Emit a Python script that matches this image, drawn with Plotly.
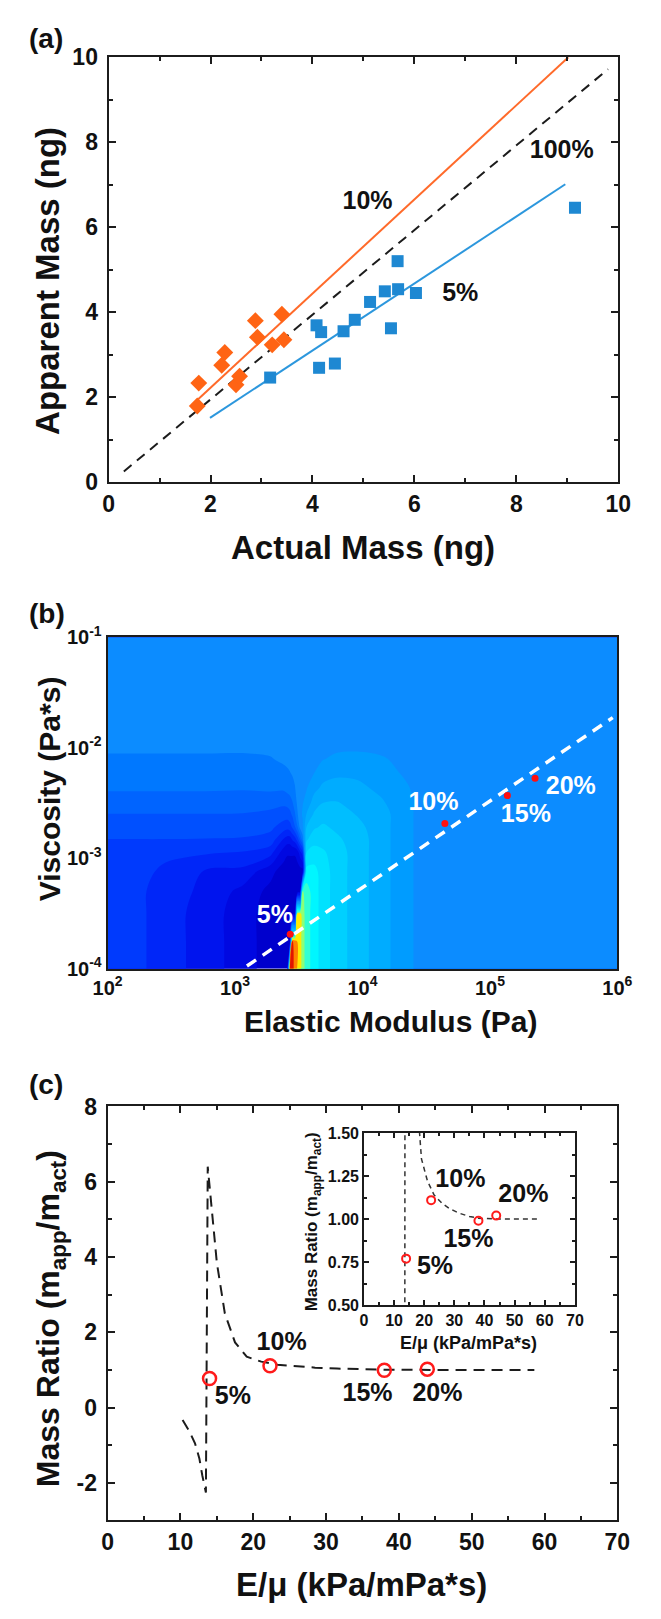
import plotly.graph_objects as go

# ---------------- panel (a) data ----------------
ORANGE_X = [1.77, 1.74, 2.22, 2.28, 2.50, 2.57, 2.88, 2.92, 3.21, 3.40, 3.44]
ORANGE_Y = [2.33, 1.79, 2.75, 3.05, 2.29, 2.49, 3.80, 3.41, 3.23, 3.95, 3.35]
BLUE_X = [3.17, 4.08, 4.17, 4.13, 4.44, 4.61, 4.83, 5.13, 5.42, 5.67, 5.68, 5.54, 6.03, 9.15]
BLUE_Y = [2.46, 3.69, 3.53, 2.69, 2.79, 3.55, 3.82, 4.24, 4.49, 5.20, 4.54, 3.62, 4.45, 6.46]
ORANGE_FIT_X = [1.72, 9.02]
ORANGE_FIT_Y = [1.91, 10.0]
BLUE_FIT_X = [1.99, 8.96]
BLUE_FIT_Y = [1.51, 7.01]
UNITY_X = [0.3, 9.8]
UNITY_Y = [0.25, 9.72]
A_LABELS = ["10%", "100%", "5%"]
A_LABEL_X = [5.08, 8.89, 6.90]
A_LABEL_Y = [6.57, 7.77, 4.41]

# ---------------- panel (b) data ----------------
LOG_E = [2.0, 2.15, 2.46, 2.77, 3.06, 3.28, 3.38, 3.41, 3.43, 3.45, 3.47, 3.49,
         3.51, 3.53, 3.56, 3.62, 3.69, 3.80, 3.96, 4.14, 4.30, 4.50, 4.75, 6.0]
LOG_ETA = [-4.0, -3.75, -3.5, -3.3, -3.12, -2.95, -2.83, -2.72, -2.6, -2.5,
           -2.36, -2.22, -2.1, -1.9, -1.5, -1.0]
Z_LEVEL = [
    [-4, -4, -5, -6, -7, -8, -8, -8, 11, 11, 10, 9.4, 9, 8, 7, 6, 5, 4, 3, 2, 1, 0, 0, 0],
    [-4, -4, -5, -6, -7, -8, -8, -8, -8, 10.6, 10, 9.4, 9, 8, 7, 6, 5, 4, 3, 2, 1, 0, 0, 0],
    [-4, -4, -5, -6, -7, -8, -8, -8, -8, -8, -8, 9, 8.8, 8, 7, 6, 5, 4, 3, 2, 1, 0, 0, 0],
    [-4, -4, -5, -5.75, -6.8, -7.8, -8, -8, -8, -8, -8, -8, -8, 7.6, 7, 6, 5, 4, 3, 2, 1, 0, 0, 0],
    [-4, -4, -4.7, -5.6, -5.8, -7.2, -8, -8, -8, -8, -8, -8, -8, -8, 5.83, 5.85, 5, 4, 3, 2, 1, 0, 0, 0],
    [-4, -4, -4.3, -4.4, -4.6, -5.2, -7, -7.4, -7.4, -7.4, -7.4, -7, -6, -5, 4.52, 4.91, 4.65, 4, 3, 2, 1, 0, 0, 0],
    [-3.52, -3.52, -3.52, -3.55, -3.6, -3.9, -5.6, -6, -6, -5.4, -5, -4, -2.6, -1.0, 3.35, 4.14, 4.125, 3.68, 3, 2, 1, 0, 0, 0],
    [-3.02, -3.02, -3.02, -3.02, -3.05, -3.3, -4, -4.2, -4, -3.4, -2.6, -1.6, -0.3, 0.3, 2.52, 3.375, 3.67, 3.3, 2.78, 2, 1, 0, 0, 0],
    [-2.52, -2.52, -2.52, -2.52, -2.55, -2.8, -3, -3, -2.8, -2.3, -1.6, -0.6, 0.2, 0.6, 1.52, 2.625, 3.06, 2.9, 2.44, 2, 1, 0, 0, 0],
    [-1.97, -1.97, -1.97, -1.97, -2.0, -2.1, -2.3, -2.2, -2.0, -1.6, -1.0, -0.3, 0.3, 0.45, 0.83, 2.0, 2.52, 2.57, 2.15, 1.667, 1, 0, 0, 0],
    [-1.36, -1.36, -1.36, -1.36, -1.4, -1.3, -1.3, -1.1, -1.0, -0.8, -0.55, 0.0, 0.25, 0.3, 0.42, 1.15, 1.72, 1.93, 1.74, 1.27, 0.775, 0, 0, 0],
    [-0.99, -0.99, -0.99, -0.99, -1.0, -0.9, -0.7, -0.6, -0.52, -0.4, -0.2, 0.1, 0.15, 0.2, 0.29, 0.457, 1.0, 1.26, 1.25, 0.91, 0.457, 0, 0, 0],
    [-0.66, -0.66, -0.66, -0.66, -0.68, -0.55, -0.35, -0.3, -0.25, -0.2, -0.1, 0.05, 0.08, 0.1, 0.18, 0.286, 0.455, 0.69, 0.75, 0.603, 0.329, 0, 0, 0],
    [0, 0, 0, 0, 0, -0.1, -0.1, -0.1, -0.1, -0.05, 0, 0, 0, 0, 0, 0, 0, 0, 0, 0, 0, 0, 0, 0],
    [0] * 24,
    [0] * 24,
]
# colour of each band, for level -8 ... 11
LEVEL_COLORS = [
    "rgb(0,0,205)", "rgb(0,8,225)", "rgb(0,20,238)", "rgb(0,38,248)",
    "rgb(0,58,253)", "rgb(0,80,255)", "rgb(0,100,255)", "rgb(0,120,255)",
    "rgb(12,140,255)", "rgb(0,156,255)", "rgb(0,172,255)", "rgb(0,190,255)",
    "rgb(0,208,255)", "rgb(0,226,255)", "rgb(0,246,255)", "rgb(50,255,210)",
    "rgb(140,255,120)", "rgb(255,235,0)", "rgb(255,130,0)", "rgb(225,20,0)",
]
B_DOT_E = [2.71e3, 4.43e4, 1.37e5, 2.26e5]
B_DOT_ETA = [2.05e-4, 2.07e-3, 3.7e-3, 5.3e-3]
B_LINE_E = [1.24e3, 9.2e5]
B_LINE_ETA = [1.06e-4, 1.88e-2]
B_LABELS = ["5%", "10%", "15%", "20%"]
B_LABEL_LOGE = [3.313, 4.557, 5.282, 5.635]
B_LABEL_LOGETA = [-3.531, -2.506, -2.610, -2.357]
B_XTICK_VALS = [1e2, 1e3, 1e4, 1e5, 1e6]
B_XTICK_TEXT = ["10<sup>2</sup>", "10<sup>3</sup>", "10<sup>4</sup>", "10<sup>5</sup>", "10<sup>6</sup>"]
B_YTICK_VALS = [1e-4, 1e-3, 1e-2, 1e-1]
B_YTICK_TEXT = ["10<sup>-4</sup>", "10<sup>-3</sup>", "10<sup>-2</sup>", "10<sup>-1</sup>"]

# ---------------- panel (c) data ----------------
C_CURVE_X = [10.3, 11.2, 12.0, 12.6, 13.0, 13.5, 13.75, 14.3, 15.0, 16.1, 17.5, 19.1,
             21.1, 23.3, 26.0, 28.5, 31.5, 35.0, 38.0, 45.0, 58.6]
C_CURVE_Y = [-0.33, -0.62, -0.95, -1.35, -1.8, -2.26, 6.4, 5.29, 3.85, 2.5, 1.73, 1.35,
             1.22, 1.14, 1.09, 1.06, 1.035, 1.015, 1.005, 1.0, 1.0]
C_PTS_X = [14.0, 22.3, 38.0, 43.9]
C_PTS_Y = [0.77, 1.11, 0.99, 1.02]
C_LABELS = ["5%", "10%", "15%", "20%"]
C_LABEL_X = [17.2, 23.9, 35.7, 45.3]
C_LABEL_Y = [0.25, 1.69, 0.34, 0.34]
INSET_LABEL_X = [23.6, 32.0, 34.7, 52.9]
INSET_LABEL_Y = [0.716, 1.22, 0.874, 1.136]
C_YTICK_VALS = [-2, 0, 2, 4, 6, 8]
C_YTICK_TEXT = ["-2", "0", "2", "4", "6", "8"]
INSET_YTICK_VALS = [0.5, 0.75, 1.0, 1.25, 1.5]
INSET_YTICK_TEXT = ["0.50", "0.75", "1.00", "1.25", "1.50"]

# ---------------- styling ----------------
W, H = 661, 1619
FONT = "Liberation Sans, Arial, sans-serif"
INK = "#1c1c1c"
ORANGE = "#ff6414"
ORANGE_LINE = "#ff6a2a"
BLUE = "#1e88d2"
BLUE_LINE = "#2c97dd"


def px_x(p):
    return p / W


def px_y(p):
    return 1 - p / H


def bold(size, color="#111"):
    return dict(family=FONT, size=size, color=color, weight="bold")


def plain(size, color="#111"):
    return dict(family=FONT, size=size, color=color)


def b(s):
    return "<b>" + s + "</b>"


def text_trace(xs, ys, labels, size, color, xa, ya):
    return go.Scatter(x=xs, y=ys, mode="text", text=[b(t) for t in labels],
                      textposition="middle center",
                      textfont=plain(size, color), cliponaxis=False, hoverinfo="skip",
                      xaxis=xa, yaxis=ya)


fig = go.Figure()

# ---- (a) ----
fig.add_trace(go.Scatter(x=UNITY_X, y=UNITY_Y, mode="lines",
                         line=dict(color=INK, width=2, dash="10px,7px"),
                         xaxis="x", yaxis="y", hoverinfo="skip"))
fig.add_trace(go.Scatter(x=ORANGE_FIT_X, y=ORANGE_FIT_Y, mode="lines",
                         line=dict(color=ORANGE_LINE, width=2), xaxis="x", yaxis="y"))
fig.add_trace(go.Scatter(x=BLUE_FIT_X, y=BLUE_FIT_Y, mode="lines",
                         line=dict(color=BLUE_LINE, width=2), xaxis="x", yaxis="y"))
fig.add_trace(go.Scatter(x=ORANGE_X, y=ORANGE_Y, mode="markers",
                         marker=dict(symbol="diamond", size=13, color=ORANGE, line=dict(width=0)),
                         xaxis="x", yaxis="y"))
fig.add_trace(go.Scatter(x=BLUE_X, y=BLUE_Y, mode="markers",
                         marker=dict(symbol="square", size=12, color=BLUE, line=dict(width=0)),
                         xaxis="x", yaxis="y"))
fig.add_trace(text_trace(A_LABEL_X, A_LABEL_Y, A_LABELS, 25, "#111", "x", "y"))

# ---- (b) ----
n_lv = len(LEVEL_COLORS)
colorscale = [[i / (n_lv - 1), c] for i, c in enumerate(LEVEL_COLORS)]
fig.add_trace(go.Contour(
    x=[10 ** v for v in LOG_E], y=[10 ** v for v in LOG_ETA], z=Z_LEVEL,
    autocontour=False,
    contours=dict(start=-7.5, end=10.5, size=1, coloring="fill", showlines=False),
    line=dict(width=0, smoothing=1.0),
    colorscale=colorscale, showscale=False, hoverinfo="skip",
    xaxis="x2", yaxis="y2"))
fig.add_trace(go.Scatter(x=B_LINE_E, y=B_LINE_ETA, mode="lines",
                         line=dict(color="white", width=3.5, dash="11px,8px"),
                         xaxis="x2", yaxis="y2", hoverinfo="skip"))
fig.add_trace(go.Scatter(x=B_DOT_E, y=B_DOT_ETA, mode="markers",
                         marker=dict(size=7, color="#ff1010"),
                         xaxis="x2", yaxis="y2"))
fig.add_trace(text_trace([10 ** v for v in B_LABEL_LOGE], [10 ** v for v in B_LABEL_LOGETA],
                         B_LABELS, 25, "white", "x2", "y2"))

# ---- (c) ----
fig.add_trace(go.Scatter(x=C_CURVE_X, y=C_CURVE_Y, mode="lines",
                         line=dict(color=INK, width=2, dash="11px,7px"),
                         xaxis="x3", yaxis="y3", hoverinfo="skip"))
fig.add_trace(go.Scatter(x=C_PTS_X, y=C_PTS_Y, mode="markers",
                         marker=dict(symbol="circle-open", size=13, color="#ff1a1a",
                                     line=dict(width=2.5, color="#ff1a1a")),
                         xaxis="x3", yaxis="y3"))
fig.add_trace(text_trace(C_LABEL_X, C_LABEL_Y, C_LABELS, 25, "#111", "x3", "y3"))
# inset
fig.add_trace(go.Scatter(x=C_CURVE_X, y=C_CURVE_Y, mode="lines",
                         line=dict(color="#333", width=1.5, dash="5px,4px"),
                         xaxis="x4", yaxis="y4", hoverinfo="skip"))
fig.add_trace(go.Scatter(x=C_PTS_X, y=C_PTS_Y, mode="markers",
                         marker=dict(symbol="circle-open", size=8, color="#ff1a1a",
                                     line=dict(width=2, color="#ff1a1a")),
                         xaxis="x4", yaxis="y4"))
fig.add_trace(text_trace(INSET_LABEL_X, INSET_LABEL_Y, C_LABELS, 25, "#111", "x4", "y4"))


# ---------------- axes ----------------
def framed(size, ticklen=7, lw=2, minor=None, **kw):
    d = dict(showline=True, linewidth=lw, linecolor=INK, mirror="ticks",
             ticks="inside", ticklen=ticklen, tickwidth=lw, tickcolor=INK,
             showgrid=False, zeroline=False, tickfont=bold(size))
    if minor is not None:
        d["minor"] = dict(ticks="inside", ticklen=max(ticklen - 3, 3), tickwidth=lw,
                          tickcolor=INK, showgrid=False, **minor)
    d.update(kw)
    return d


A_X = [98, 632]
A_Y = [44, 476]
B_X = [97, 631]
B_Y = [634, 971]
C_X = [97, 631]
C_Y = [1111, 1532]
I_X = [365.5, 586.5]
I_Y = [1138, 1313]

fig.update_layout(
    xaxis=framed(23, range=[0, 10], tickvals=[0, 2, 4, 6, 8, 10],
                 minor=dict(tickvals=[1, 3, 5, 7, 9]),
                 domain=[px_x(A_X[0]), px_x(A_X[1])], anchor="y"),
    yaxis=framed(23, range=[0, 10], tickvals=[0, 2, 4, 6, 8, 10],
                 minor=dict(tickvals=[1, 3, 5, 7, 9]), ticklabelstandoff=4,
                 domain=[px_y(A_Y[1]), px_y(A_Y[0])], anchor="x"),
    xaxis2=dict(type="log", range=[2, 6], domain=[px_x(B_X[0]), px_x(B_X[1])], anchor="y2",
                showline=True, linewidth=2, linecolor=INK, mirror=True, ticks="",
                showgrid=False, zeroline=False, tickvals=B_XTICK_VALS, ticktext=B_XTICK_TEXT,
                tickfont=bold(20)),
    yaxis2=dict(type="log", range=[-4, -1], domain=[px_y(B_Y[1]), px_y(B_Y[0])], anchor="x2",
                showline=True, linewidth=2, linecolor=INK, mirror=True, ticks="",
                showgrid=False, zeroline=False, tickvals=B_YTICK_VALS, ticktext=B_YTICK_TEXT,
                tickfont=bold(20)),
    xaxis3=framed(23, range=[0, 70], tick0=0, dtick=10, minor=dict(dtick=5),
                  domain=[px_x(C_X[0]), px_x(C_X[1])], anchor="y3"),
    yaxis3=framed(23, range=[-3, 8], tickvals=C_YTICK_VALS, ticktext=C_YTICK_TEXT,
                  minor=dict(tickvals=[-3, -1, 1, 3, 5, 7]), ticklabelstandoff=4,
                  domain=[px_y(C_Y[1]), px_y(C_Y[0])], anchor="x3"),
    xaxis4=framed(16, ticklen=5, lw=1.5, range=[0, 70], tick0=0, dtick=10, minor=dict(dtick=5),
                  domain=[px_x(I_X[0]), px_x(I_X[1])], anchor="y4"),
    yaxis4=framed(16, ticklen=5, lw=1.5, range=[0.5, 1.5], tickvals=INSET_YTICK_VALS,
                  ticktext=INSET_YTICK_TEXT, minor=dict(dtick=0.125, tick0=0.5),
                  domain=[px_y(I_Y[1]), px_y(I_Y[0])], anchor="x4"),
)

# ---------------- panel letters and axis titles ----------------
ann = []


def paper_text(text, x, y, size, angle=0):
    ann.append(dict(text=b(text), x=px_x(x), y=px_y(y), xref="paper", yref="paper",
                    showarrow=False, textangle=angle, xanchor="center", yanchor="middle",
                    font=plain(size)))


paper_text("(a)", 32, 25, 28)
paper_text("(b)", 34, 610, 28)
paper_text("(c)", 32, 1089, 28)
paper_text("Actual Mass (ng)", 365, 543, 33)
paper_text("Apparent Mass (ng)", 34, 271, 33, angle=-90)
paper_text("Elastic Modulus (Pa)", 393, 1025, 30)
paper_text("Viscosity (Pa*s)", 37, 788, 30, angle=-90)
paper_text("E/μ (kPa/mPa*s)", 363, 1597, 33)
paper_text("Mass Ratio (m<sub>app</sub>/m<sub>act</sub>)", 38, 1327, 32, angle=-90)
paper_text("Mass Ratio (m<sub>app</sub>/m<sub>act</sub>)", 312, 1228, 17, angle=-90)
paper_text("E/μ (kPa/mPa*s)", 475, 1352, 18)

fig.update_layout(
    annotations=ann,
    width=W, height=H, autosize=False,
    margin=dict(l=0, r=0, t=0, b=0),
    paper_bgcolor="white", plot_bgcolor="rgba(0,0,0,0)",
    showlegend=False,
    font=dict(family=FONT, size=20, color="#111"),
)

fig.write_html("out.html",
               config={"displayModeBar": False},
               post_script="document.body.style.margin='0';document.body.style.overflow='hidden';")
